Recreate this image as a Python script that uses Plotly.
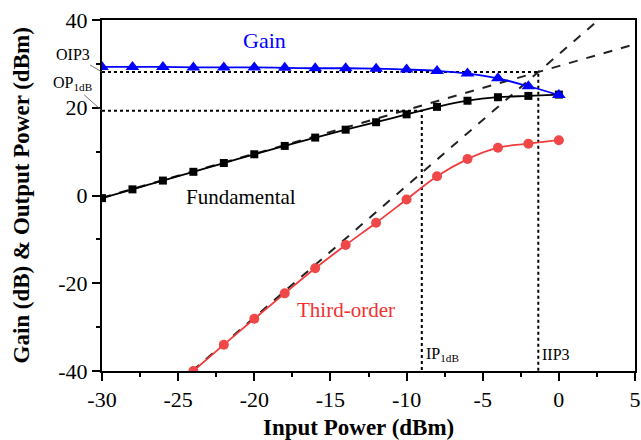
import plotly.graph_objects as go
import numpy as np

# ---- data ----
input_power = [-30, -28, -26, -24, -22, -20, -18, -16, -14, -12, -10, -8, -6, -4, -2, 0]
gain = [29.3, 29.3, 29.3, 29.2, 29.2, 29.2, 29.1, 29.0, 29.0, 28.9, 28.7, 28.4, 27.8, 26.7, 24.9, 22.9]
fundamental = [-0.6, 1.4, 3.4, 5.4, 7.4, 9.4, 11.3, 13.2, 15.0, 16.7, 18.5, 20.2, 21.6, 22.4, 22.7, 23.0]
third_x = [-24, -22, -20, -18, -16, -14, -12, -10, -8, -6, -4, -2, 0]
third_order = [-40.0, -34.0, -28.1, -22.3, -16.6, -11.3, -6.2, -0.9, 4.4, 8.3, 10.9, 11.8, 12.6]

x_tickvals = [-30, -25, -20, -15, -10, -5, 0, 5]
x_ticktext = ["-30", "-25", "-20", "-15", "-10", "-5", "0", "5"]
y_tickvals = [-40, -20, 0, 20, 40]
y_ticktext = ["-40", "-20", "0", "20", "40"]

x_title = "Input Power (dBm)"
y_title = "Gain (dB) & Output Power (dBm)"

fund_intercept = 29.5   # fundamental asymptote: y = x + c1
third_intercept = 32.2  # third-order asymptote: y = 3x + c3
ip1db = -9.0
op1db = 19.3

iip3 = (fund_intercept - third_intercept) / 2.0
oip3 = iip3 + fund_intercept

FONT = "Liberation Serif, Times New Roman, serif"

fig = go.Figure()

# asymptotes (dashed)
xf = np.array([-30, 5])
fig.add_trace(go.Scatter(x=xf, y=xf + fund_intercept, mode="lines",
                         line=dict(color="#222", width=2, dash="dash"), showlegend=False))
xt = np.array([(-40 - third_intercept) / 3, (40 - third_intercept) / 3])
fig.add_trace(go.Scatter(x=xt, y=3 * xt + third_intercept, mode="lines",
                         line=dict(color="#222", width=2, dash="dash"), showlegend=False))

# dotted guide lines
fig.add_trace(go.Scatter(x=[-30, iip3, iip3], y=[oip3, oip3, -40], mode="lines",
                         line=dict(color="black", width=2, dash="dot"), showlegend=False))
fig.add_trace(go.Scatter(x=[-30, ip1db, ip1db], y=[op1db, op1db, -40], mode="lines",
                         line=dict(color="black", width=2, dash="dot"), showlegend=False))

# data series
fig.add_trace(go.Scatter(x=input_power, y=fundamental, mode="lines+markers",
                         line=dict(color="black", width=1.8, shape="spline"),
                         marker=dict(symbol="square", size=8, color="black"), showlegend=False))
fig.add_trace(go.Scatter(x=third_x, y=third_order, mode="lines+markers",
                         line=dict(color="#f03c3c", width=1.8, shape="spline"),
                         marker=dict(symbol="circle", size=10, color="#f04848"), showlegend=False))
fig.add_trace(go.Scatter(x=input_power, y=gain, mode="lines+markers",
                         line=dict(color="blue", width=1.8, shape="spline"),
                         marker=dict(symbol="triangle-up", size=12, color="blue"), showlegend=False))

ann = []
ann.append(dict(x=-19.3, y=35.4, text="Gain", showarrow=False, font=dict(family=FONT, size=22, color="blue")))
ann.append(dict(x=-20.9, y=-0.3, text="Fundamental", showarrow=False, font=dict(family=FONT, size=21, color="black")))
ann.append(dict(x=-14.0, y=-26.0, text="Third-order", showarrow=False, font=dict(family=FONT, size=21, color="#f03030")))
ann.append(dict(x=-30, y=oip3, text="OIP3", showarrow=True, arrowhead=0, arrowwidth=0.8, arrowcolor="#555",
                ax=-29, ay=-17, font=dict(family=FONT, size=16, color="black")))
ann.append(dict(x=-30, y=op1db, text="OP<sub>1dB</sub>", showarrow=True, arrowhead=0, arrowwidth=0.8, arrowcolor="#555",
                ax=-30, ay=-27, font=dict(family=FONT, size=16, color="black")))
ann.append(dict(x=ip1db, y=-36.3, text="IP<sub>1dB</sub>", showarrow=False, xanchor="left",
                xshift=2, font=dict(family=FONT, size=16, color="black")))
ann.append(dict(x=iip3, y=-36.3, text="IIP3", showarrow=False, xanchor="left",
                xshift=2, font=dict(family=FONT, size=16, color="black")))
# axis titles
ann.append(dict(xref="paper", yref="paper", x=0.482, y=0, yshift=-56, yanchor="middle",
                text="<b>" + x_title + "</b>", showarrow=False, font=dict(family=FONT, size=23, color="black")))
ann.append(dict(xref="paper", yref="paper", x=0, xshift=-81, y=0.5, xanchor="center", textangle=-90,
                text="<b>" + y_title + "</b>", showarrow=False, font=dict(family=FONT, size=23, color="black")))

fig.update_layout(
    width=641, height=440,
    margin=dict(l=102, r=6, t=20, b=69, autoexpand=False),
    plot_bgcolor="white", paper_bgcolor="white",
    font=dict(family=FONT, size=22, color="black"),
    annotations=ann,
)
fig.update_xaxes(range=[-30, 5], tickvals=x_tickvals, ticktext=x_ticktext, showgrid=False, zeroline=False,
                 showline=True, linecolor="black", linewidth=2, mirror=True, automargin=False,
                 ticks="outside", ticklen=8, tickwidth=2, tickcolor="black",
                 minor=dict(dtick=2.5, tick0=-30, ticks="outside", ticklen=4, tickwidth=2, tickcolor="black"),
                 tickfont=dict(family=FONT, size=22))
fig.update_yaxes(range=[-40, 40], tickvals=y_tickvals, ticktext=y_ticktext, showgrid=False, zeroline=False,
                 showline=True, linecolor="black", linewidth=2, mirror=True, automargin=False,
                 ticks="outside", ticklen=8, tickwidth=2, tickcolor="black",
                 minor=dict(dtick=10, tick0=0, ticks="outside", ticklen=4, tickwidth=2, tickcolor="black"),
                 tickfont=dict(family=FONT, size=22))

# remove the default page margin so the 641x440 figure fills the window exactly
fig.write_html("out.html", config={"displayModeBar": False},
               post_script="document.body.style.margin='0px';document.body.style.overflow='hidden';")
